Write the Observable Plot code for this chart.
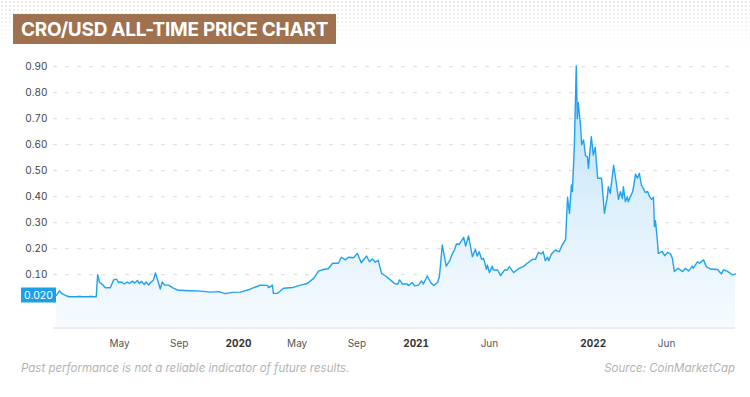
<!DOCTYPE html>
<html>
<head>
<meta charset="utf-8">
<script src="https://cdn.jsdelivr.net/npm/d3@7"></script>
<script src="https://cdn.jsdelivr.net/npm/@observablehq/plot@0.6"></script>
<style>
  html, body { margin: 0; padding: 0; background: #fff; width: 750px; height: 397px; overflow: hidden; font-family: Inter, "Noto Sans", sans-serif; }
  #head { position: relative; height: 50px; }
  #dots { position: absolute; left: 0; top: 0; width: 750px; height: 50px;
    background-image: radial-gradient(circle, #e2e2e2 0.9px, transparent 1.3px); background-size: 4px 4px;
    -webkit-mask-image: linear-gradient(to bottom, rgba(0,0,0,0.8), rgba(0,0,0,0) 46px);
    mask-image: linear-gradient(to bottom, rgba(0,0,0,0.8), rgba(0,0,0,0) 46px); }
  #title { position: absolute; left: 13px; top: 14px; height: 30px; line-height: 31px; padding: 0 8px;
    background: #a0714f; color: #fff; font-family: Inter, sans-serif; font-weight: 700; font-size: 19px; letter-spacing: -0.25px; white-space: nowrap; }
  #chart { height: 305px; }
  #chart svg { display: block; }
  #foot { position: relative; height: 42px; font-style: italic; color: #b3b3b3; font-size: 11.5px; font-family: Inter, sans-serif; }
  #note { position: absolute; left: 21px; top: 6px; }
  #src { position: absolute; right: 15px; top: 6px; }
</style>
</head>
<body>
<div id="head"><div id="dots"></div><div id="title">CRO/USD ALL-TIME PRICE CHART</div></div>
<div id="chart"></div>
<div id="foot"><span id="note">Past performance is not a reliable indicator of future results.</span><span id="src">Source: CoinMarketCap</span></div>
<script>
// ---- Data ----
const dates = [
  "2018-12-22","2018-12-28","2019-01-03","2019-01-16","2019-03-14","2019-03-17","2019-03-21","2019-03-27",
  "2019-04-02","2019-04-12","2019-04-19","2019-04-25","2019-04-29","2019-05-05","2019-05-11","2019-05-17",
  "2019-05-21","2019-05-28","2019-06-01","2019-06-07","2019-06-11","2019-06-15","2019-06-21","2019-06-25",
  "2019-06-30","2019-07-04","2019-07-10","2019-07-14","2019-07-20","2019-07-24","2019-07-28","2019-08-02",
  "2019-08-10","2019-08-18","2019-08-30","2019-09-24","2019-10-15","2019-11-04","2019-11-21","2019-12-05",
  "2019-12-20","2020-01-05","2020-01-22","2020-01-30","2020-02-15","2020-03-01","2020-03-03","2020-03-11",
  "2020-03-13","2020-03-21","2020-04-03","2020-04-23","2020-05-08","2020-05-22","2020-06-04","2020-06-14",
  "2020-06-24","2020-07-04","2020-07-13","2020-07-25","2020-07-31","2020-08-08","2020-08-15","2020-08-25",
  "2020-09-02","2020-09-10","2020-09-21","2020-09-27","2020-10-03","2020-10-09","2020-10-15","2020-10-22",
  "2020-10-30","2020-11-09","2020-11-17","2020-11-24","2020-11-28","2020-12-04","2020-12-14","2020-12-16",
  "2020-12-24","2020-12-29","2021-01-06","2021-01-12","2021-01-16","2021-01-24","2021-01-31","2021-02-06",
  "2021-02-14","2021-02-18","2021-02-24","2021-03-04","2021-03-11","2021-03-17","2021-03-21","2021-03-25",
  "2021-03-31","2021-04-09","2021-04-13","2021-04-19","2021-04-27","2021-05-03","2021-05-07","2021-05-11",
  "2021-05-16","2021-05-20","2021-05-26","2021-05-28","2021-06-01","2021-06-07","2021-06-09","2021-06-18",
  "2021-06-24","2021-07-02","2021-07-08","2021-07-12","2021-07-21","2021-07-29","2021-08-04","2021-08-10",
  "2021-08-18","2021-08-29","2021-09-04","2021-09-10","2021-09-16","2021-09-20","2021-09-24","2021-09-29",
  "2021-10-01","2021-10-07","2021-10-15","2021-10-23","2021-10-29","2021-11-05","2021-11-09","2021-11-13",
  "2021-11-17","2021-11-19","2021-11-23","2021-11-27","2021-11-29","2021-12-01","2021-12-06","2021-12-08",
  "2021-12-12","2021-12-16","2021-12-20","2021-12-22","2021-12-28","2022-01-01","2022-01-05","2022-01-10",
  "2022-01-18","2022-01-24","2022-01-30","2022-02-01","2022-02-05","2022-02-12","2022-02-18","2022-02-22",
  "2022-02-26","2022-03-02","2022-03-04","2022-03-08","2022-03-12","2022-03-14","2022-03-23","2022-03-25",
  "2022-03-29","2022-04-02","2022-04-06","2022-04-10","2022-04-14","2022-04-18","2022-04-23","2022-04-27",
  "2022-05-01","2022-05-05","2022-05-07","2022-05-09","2022-05-13","2022-05-15","2022-05-23","2022-05-28",
  "2022-06-03","2022-06-09","2022-06-13","2022-06-17","2022-06-25","2022-07-04","2022-07-10","2022-07-16",
  "2022-07-24","2022-07-26","2022-08-04","2022-08-08","2022-08-16","2022-08-22","2022-08-30","2022-09-14",
  "2022-09-22","2022-09-26","2022-10-04","2022-10-15","2022-10-21"
];
const prices = [
  0.020,0.038,0.026,0.015,0.015,0.100,0.070,0.062,
  0.050,0.050,0.080,0.083,0.070,0.072,0.065,0.072,
  0.066,0.075,0.068,0.078,0.066,0.075,0.062,0.072,
  0.060,0.070,0.080,0.107,0.070,0.045,0.072,0.060,
  0.060,0.050,0.040,0.038,0.037,0.033,0.035,0.027,
  0.032,0.033,0.042,0.048,0.060,0.059,0.050,0.060,
  0.028,0.028,0.048,0.051,0.060,0.066,0.086,0.114,
  0.120,0.123,0.144,0.144,0.167,0.157,0.167,0.165,
  0.182,0.146,0.172,0.150,0.160,0.148,0.155,0.105,
  0.095,0.080,0.067,0.063,0.080,0.064,0.064,0.058,
  0.070,0.057,0.060,0.076,0.064,0.095,0.070,0.058,
  0.070,0.092,0.214,0.133,0.153,0.182,0.195,0.218,
  0.217,0.244,0.210,0.249,0.169,0.197,0.172,0.188,
  0.159,0.163,0.121,0.137,0.108,0.133,0.118,0.118,
  0.096,0.118,0.118,0.131,0.108,0.120,0.127,0.131,
  0.144,0.159,0.159,0.186,0.180,0.188,0.154,0.167,
  0.154,0.180,0.195,0.188,0.214,0.236,0.398,0.336,
  0.445,0.420,0.592,0.903,0.700,0.762,0.669,0.600,
  0.618,0.557,0.553,0.509,0.631,0.560,0.590,0.471,
  0.471,0.336,0.400,0.438,0.413,0.521,0.445,0.390,
  0.419,0.393,0.438,0.381,0.400,0.381,0.419,0.438,
  0.487,0.471,0.490,0.445,0.432,0.416,0.420,0.400,
  0.390,0.397,0.285,0.308,0.233,0.182,0.190,0.173,
  0.186,0.180,0.163,0.112,0.125,0.112,0.125,0.114,
  0.133,0.125,0.150,0.144,0.157,0.131,0.122,0.120,
  0.103,0.118,0.114,0.099,0.103
];
const yTickValues = [0.1, 0.2, 0.3, 0.4, 0.5, 0.6, 0.7, 0.8, 0.9];
const tagValue = 0.02;                      // highlighted price tag on the axis
const xTickDates = ["2019-05-01","2019-09-01","2020-01-01","2020-05-01","2020-09-01","2021-01-01","2021-06-01","2022-01-01","2022-06-01"];
const xTickLabels = ["May","Sep","2020","May","Sep","2021","Jun","2022","Jun"];
const xDomain = ["2018-12-16", "2022-10-21"];
const yDomain = [-0.105, 0.92];

// ---- Build table ----
const parse = d3.utcParse("%Y-%m-%d");
const data = dates.map((d, i) => ({date: parse(d), price: prices[i]}));
const tickDates = xTickDates.map(parse);
const labelOf = new Map(tickDates.map((d, i) => [+d, xTickLabels[i]]));
const isYear = (d) => /^\d{4}$/.test(labelOf.get(+d));
const monthTicks = tickDates.filter(d => !isYear(d));
const yearTicks = tickDates.filter(isYear);

function fillDefs() {
  const defs = d3.create("svg:defs");
  const lg = defs.append("linearGradient").attr("id", "croFill")
    .attr("x1", 0).attr("y1", 0).attr("x2", 0).attr("y2", 1);
  lg.append("stop").attr("offset", "0%").attr("stop-color", "#b4ddf8");
  lg.append("stop").attr("offset", "55%").attr("stop-color", "#def0fc");
  lg.append("stop").attr("offset", "100%").attr("stop-color", "#f7fbff");
  return defs.node();
}

function priceTag(index, scales, values, dims) {
  const g = d3.create("svg:g");
  const y = scales.y(tagValue);
  const w = 35, h = 15;
  const x0 = dims.marginLeft + 3 - w;
  g.append("rect").attr("x", x0).attr("y", y - h / 2).attr("width", w).attr("height", h).attr("fill", "#1b9fe9");
  g.append("text").attr("x", x0 + w / 2).attr("y", y).attr("dy", "0.35em")
    .attr("text-anchor", "middle").attr("fill", "#fff").attr("font-size", 10.5)
    .attr("font-family", "Inter, sans-serif").text(d3.format(".3f")(tagValue));
  return g.node();
}

const chart = Plot.plot({
  width: 750,
  height: 305,
  marginLeft: 53,
  marginRight: 15,
  marginTop: 11,
  marginBottom: 27.5,
  style: {fontFamily: "Inter, sans-serif", background: "transparent"},
  x: {type: "utc", domain: xDomain.map(parse)},
  y: {domain: yDomain},
  marks: [
    fillDefs,
    Plot.gridY([tagValue, ...yTickValues], {stroke: "#dcdcdc", strokeOpacity: 1, strokeDasharray: "4,8", strokeWidth: 1}),
    Plot.areaY(data, {x: "date", y1: yDomain[0], y2: "price", fill: "url(#croFill)", curve: "linear"}),
    Plot.lineY(data, {x: "date", y: "price", stroke: "#1fa3ef", strokeWidth: 1.4, curve: "linear"}),
    Plot.ruleY([yDomain[0]], {stroke: "#ececec", strokeWidth: 2}),
    Plot.axisY(yTickValues, {tickSize: 0, tickPadding: 6, tickFormat: d3.format(".2f"), fontSize: 10, fill: "#444", label: null}),
    Plot.axisX(monthTicks, {tickSize: 0, tickPadding: 12, tickFormat: d => labelOf.get(+d), fontSize: 10, fill: "#555", label: null}),
    Plot.axisX(yearTicks, {tickSize: 0, tickPadding: 12, tickFormat: d => labelOf.get(+d), fontSize: 10, fontWeight: "bold", fill: "#333", label: null}),
    priceTag
  ]
});
document.getElementById("chart").appendChild(chart);
</script>
</body>
</html>
